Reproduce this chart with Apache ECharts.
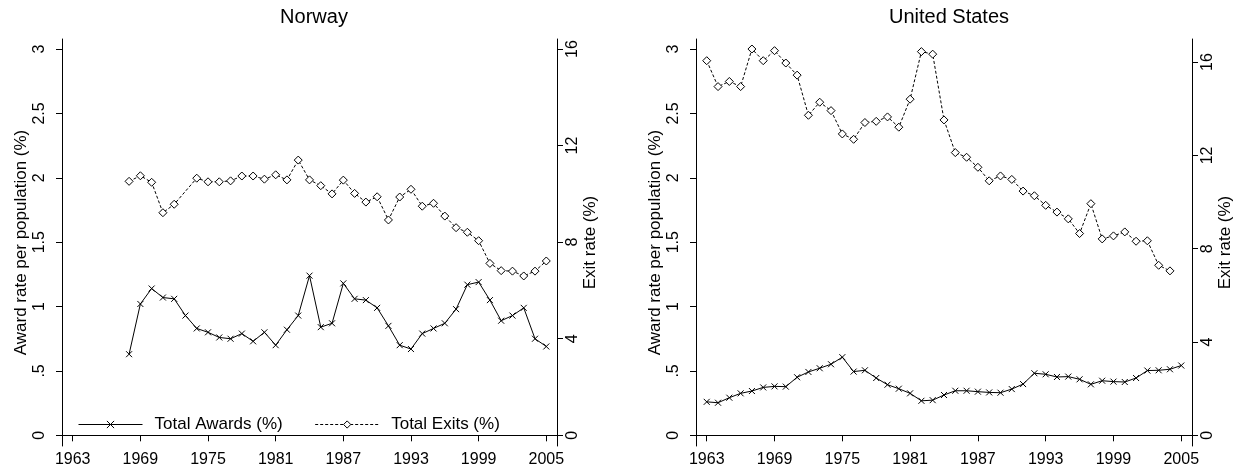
<!DOCTYPE html>
<html style="height: 100%">
<head>
   <meta charset="utf-8">
</head>
<style>
    body, html, #chart {
        width: 100%;
        height: 100%;
        margin: 0;
        background: #fff;
    }
</style>
<title>Awards and exits</title>
<script src="https://cdn.jsdelivr.net/npm/echarts@6/dist/echarts.min.js"></script>
<body>
   <div id="chart"></div>
   <script type="text/javascript">
    // years
    var norwayYears = [1968, 1969, 1970, 1971, 1972, 1973, 1974, 1975, 1976, 1977, 1978, 1979, 1980,
        1981, 1982, 1983, 1984, 1985, 1986, 1987, 1988, 1989, 1990, 1991, 1992, 1993, 1994, 1995,
        1996, 1997, 1998, 1999, 2000, 2001, 2002, 2003, 2004, 2005];
    var usYears = [1963, 1964, 1965, 1966, 1967, 1968, 1969, 1970, 1971, 1972, 1973, 1974, 1975,
        1976, 1977, 1978, 1979, 1980, 1981, 1982, 1983, 1984, 1985, 1986, 1987, 1988, 1989, 1990,
        1991, 1992, 1993, 1994, 1995, 1996, 1997, 1998, 1999, 2000, 2001, 2002, 2003, 2004, 2005];

    // Norway: award rate (left axis) and exit rate (right axis), 1973 exits missing
    var norwayAwards = [0.63, 1.02, 1.14, 1.07, 1.06, 0.93, 0.83, 0.80, 0.76, 0.75, 0.79, 0.73, 0.80,
        0.70, 0.82, 0.93, 1.24, 0.84, 0.87, 1.18, 1.06, 1.05, 0.99, 0.85, 0.70, 0.67, 0.79, 0.83,
        0.87, 0.98, 1.17, 1.19, 1.05, 0.89, 0.93, 0.99, 0.75, 0.69];
    var norwayExits = [10.52, 10.75, 10.48, 9.22, 9.57, null, 10.65, 10.50, 10.50, 10.54, 10.74, 10.74,
        10.61, 10.79, 10.58, 11.40, 10.58, 10.34, 10.00, 10.57, 10.02, 9.66, 9.88, 8.92, 9.87,
        10.19, 9.49, 9.61, 9.08, 8.60, 8.41, 8.06, 7.12, 6.82, 6.80, 6.60, 6.80, 7.22];

    // United States (exits end in 2004)
    var usAwards = [0.26, 0.253, 0.292, 0.326, 0.344, 0.372, 0.38, 0.378, 0.451, 0.492, 0.521, 0.552,
        0.607, 0.495, 0.505, 0.445, 0.393, 0.362, 0.326, 0.268, 0.273, 0.313, 0.346, 0.346, 0.339,
        0.333, 0.331, 0.359, 0.398, 0.482, 0.474, 0.453, 0.456, 0.435, 0.396, 0.424, 0.417, 0.414,
        0.445, 0.503, 0.505, 0.513, 0.542];
    var usExits = [16.06, 14.95, 15.17, 14.95, 16.56, 16.06, 16.49, 15.96, 15.44, 13.72, 14.28, 13.92,
        12.92, 12.69, 13.41, 13.46, 13.65, 13.21, 14.41, 16.45, 16.34, 13.52, 12.12, 11.92, 11.49,
        10.91, 11.12, 10.97, 10.47, 10.27, 9.86, 9.57, 9.28, 8.65, 9.93, 8.42, 8.55, 8.72, 8.32,
        8.34, 7.29, 7.05];

    // tick labels
    var yearTicks = [1963, 1969, 1975, 1981, 1987, 1993, 1999, 2005];
    var awardTicks = [0, 0.5, 1, 1.5, 2, 2.5, 3];
    var awardTickText = ['0', '.5', '1', '1.5', '2', '2.5', '3'];
    var exitTicks = [0, 4, 8, 12, 16];

    var font = 'Liberation Sans, Arial, Helvetica, sans-serif';

    function pairs(xs, ys) {
        return xs.slice(0, ys.length).map(function (x, i) { return [x, ys[i]]; });
    }

    function xAxis(idx) {
        return {
            type: 'value', gridIndex: idx, min: 1962.05, max: 2005.95,
            axisLine: { lineStyle: { color: '#000', width: 1 } },
            axisTick: { customValues: yearTicks, length: 6, lineStyle: { color: '#000' } },
            axisLabel: {
                customValues: yearTicks, color: '#000', fontSize: 16, fontFamily: font, margin: 6,
                formatter: function (v) { return String(v); }
            },
            splitLine: { show: false }
        };
    }

    function leftAxis(idx) {
        return {
            type: 'value', gridIndex: idx, position: 'left', min: -0.083, max: 3.078,
            name: 'Award rate per population (%)', nameLocation: 'middle', nameRotate: 90, nameGap: 32,
            nameTextStyle: { color: '#000', fontSize: 17, fontFamily: font },
            axisLine: { show: true, lineStyle: { color: '#000', width: 1 } },
            axisTick: { show: true, customValues: awardTicks, length: 6, lineStyle: { color: '#000' } },
            axisLabel: {
                customValues: awardTicks, rotate: 90, margin: 14, color: '#000', fontSize: 16, fontFamily: font,
                formatter: function (v) { return awardTickText[awardTicks.indexOf(v)]; }
            },
            splitLine: { show: false }
        };
    }

    function rightAxis(idx, min, max) {
        return {
            type: 'value', gridIndex: idx, position: 'right', min: min, max: max,
            name: 'Exit rate (%)', nameLocation: 'middle', nameRotate: 90, nameGap: 25,
            nameTextStyle: { color: '#000', fontSize: 17, fontFamily: font },
            axisLine: { show: true, lineStyle: { color: '#000', width: 1 } },
            axisTick: { show: true, customValues: exitTicks, length: 6, lineStyle: { color: '#000' } },
            axisLabel: { customValues: exitTicks, rotate: 90, margin: 8, color: '#000', fontSize: 16, fontFamily: font },
            splitLine: { show: false }
        };
    }

    var crossSymbol = 'path://M0,0L8,8M8,0L0,8';
    var awardLine = { color: '#000', width: 1 };
    var awardItem = { color: '#000', borderColor: '#000', borderWidth: 1 };
    var exitLine = { color: '#000', width: 1, type: [3, 2] };
    var exitItem = { color: '#fff', borderColor: '#000', borderWidth: 1 };

    function awardSeries(xi, yi, data) {
        return {
            name: 'Total Awards (%)', type: 'line', xAxisIndex: xi, yAxisIndex: yi, data: data,
            symbol: crossSymbol, symbolSize: 6, showAllSymbol: true,
            lineStyle: awardLine, itemStyle: awardItem
        };
    }

    function exitSeries(xi, yi, data) {
        return {
            name: 'Total Exits (%)', type: 'line', xAxisIndex: xi, yAxisIndex: yi, data: data,
            symbol: 'diamond', symbolSize: [8, 8], showAllSymbol: true, connectNulls: true,
            lineStyle: exitLine, itemStyle: exitItem
        };
    }

    var chart = echarts.init(document.getElementById('chart'));
    var option = {
        animation: false,
        backgroundColor: '#fff',
        title: [
            { text: 'Norway', left: 309, top: 2, textAlign: 'center',
              textStyle: { color: '#000', fontSize: 20, fontWeight: 'normal', fontFamily: font } },
            { text: 'United States', left: 944, top: 2, textAlign: 'center',
              textStyle: { color: '#000', fontSize: 20, fontWeight: 'normal', fontFamily: font } }
        ],
        legend: {
            left: 78, top: 416, padding: 0, itemWidth: 64, itemHeight: 9, itemGap: 32,
            data: [
                { name: 'Total Awards (%)', lineStyle: awardLine, itemStyle: awardItem },
                { name: 'Total Exits (%)', lineStyle: exitLine, itemStyle: exitItem }
            ],
            textStyle: { color: '#000', fontSize: 17, fontFamily: font, padding: [0, 0, 0, 7] }
        },
        grid: [
            { left: 62, top: 39, width: 495, height: 407 },
            { left: 696, top: 39, width: 496, height: 407 }
        ],
        xAxis: [xAxis(0), xAxis(1)],
        yAxis: [
            leftAxis(0),
            rightAxis(0, -0.444, 16.416),
            leftAxis(1),
            rightAxis(1, -0.458, 16.99)
        ],
        series: [
            awardSeries(0, 0, pairs(norwayYears, norwayAwards)),
            exitSeries(0, 1, pairs(norwayYears, norwayExits)),
            awardSeries(1, 2, pairs(usYears, usAwards)),
            exitSeries(1, 3, pairs(usYears, usExits))
        ]
    };
    chart.setOption(option);
    </script>
</body>
</html>
